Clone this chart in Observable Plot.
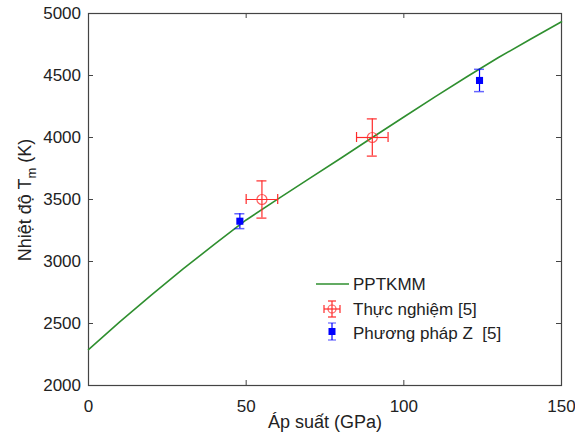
<!DOCTYPE html>
<html>
<head>
<meta charset="utf-8">
<script src="https://cdn.jsdelivr.net/npm/d3@7"></script>
<script src="https://cdn.jsdelivr.net/npm/@observablehq/plot@0.6"></script>
<style>
  html, body { margin: 0; padding: 0; background: #fff; }
  #chart { width: 575px; height: 435px; }
</style>
</head>
<body>
<div id="chart"></div>
<script>
// PPTKMM curve
const pressure = [0, 10, 20, 30, 40, 50, 60, 70, 80, 90, 100, 110, 120, 130, 140, 150];
const meltT    = [2290, 2515, 2730, 2940, 3140, 3335, 3503, 3668, 3833, 4000, 4165, 4330, 4490, 4645, 4790, 4933];
// Thực nghiệm [5]
const expP = [55, 90];
const expT = [3500, 4000];
const expPErr = [5, 5];
const expTErr = [150, 150];
// Phương pháp Z [5]
const zP = [48, 124];
const zT = [3325, 4460];
const zTErr = [60, 90];

const xTicks = [0, 50, 100, 150];
const yTicks = [2000, 2500, 3000, 3500, 4000, 4500, 5000];

const curve = pressure.map((p, i) => ({p, t: meltT[i]}));
const exp = expP.map((p, i) => ({p, t: expT[i], pe: expPErr[i], te: expTErr[i]}));
const zd = zP.map((p, i) => ({p, t: zT[i], te: zTErr[i]}));

const green = "#2f8f2f";
const red = "#ff2a2a";
const blue = "#0000ff";
const axisColor = "#444";
const fmt = d3.format("d");

const W = 575, H = 435, ML = 88, MR = 14, MT = 13, MB = 50, TL = 5;
const innerW = W - ML - MR, innerH = H - MT - MB;

const plot = Plot.plot({
  width: W,
  height: H,
  marginLeft: ML,
  marginRight: MR,
  marginTop: MT,
  marginBottom: MB,
  style: {fontFamily: "Liberation Sans, Arial, sans-serif", fontSize: "17px", color: "#222", background: "#fff"},
  x: {domain: [0, 150]},
  y: {domain: [2000, 5000]},
  marks: [
    Plot.axisX({anchor: "bottom", ticks: xTicks, tickSize: 0, tickPadding: 14, tickFormat: fmt, label: null, fill: "#222"}),
    Plot.axisY({anchor: "left", ticks: yTicks, tickSize: 0, tickPadding: 7.5, tickFormat: fmt, label: null, fill: "#222"}),
    // inward ticks on all four sides
    Plot.ruleX(xTicks, {x: d => d, insetTop: innerH - TL, stroke: axisColor}),
    Plot.ruleX(xTicks, {x: d => d, insetBottom: innerH - TL, stroke: axisColor}),
    Plot.ruleY(yTicks, {y: d => d, insetRight: innerW - TL, stroke: axisColor}),
    Plot.ruleY(yTicks, {y: d => d, insetLeft: innerW - TL, stroke: axisColor}),
    Plot.frame({stroke: axisColor, strokeWidth: 1.2}),
    Plot.line(curve, {x: "p", y: "t", stroke: green, strokeWidth: 1.6}),
    // experimental error bars
    Plot.ruleX(exp, {x: "p", y1: d => d.t - d.te, y2: d => d.t + d.te, stroke: red, strokeWidth: 1.2}),
    Plot.ruleY(exp, {y: "t", x1: d => d.p - d.pe, x2: d => d.p + d.pe, stroke: red, strokeWidth: 1.2}),
    Plot.ruleY(exp, {y: d => d.t - d.te, x1: "p", x2: "p", insetLeft: -5, insetRight: -5, stroke: red, strokeWidth: 1.2}),
    Plot.ruleY(exp, {y: d => d.t + d.te, x1: "p", x2: "p", insetLeft: -5, insetRight: -5, stroke: red, strokeWidth: 1.2}),
    Plot.ruleX(exp, {x: d => d.p - d.pe, y1: "t", y2: "t", insetTop: -5, insetBottom: -5, stroke: red, strokeWidth: 1.2}),
    Plot.ruleX(exp, {x: d => d.p + d.pe, y1: "t", y2: "t", insetTop: -5, insetBottom: -5, stroke: red, strokeWidth: 1.2}),
    Plot.dot(exp, {x: "p", y: "t", r: 5, stroke: red, strokeWidth: 1.2, fill: "none", strokeOpacity: 0.75}),
    // Z method
    Plot.ruleX(zd, {x: "p", y1: d => d.t - d.te, y2: d => d.t + d.te, stroke: blue, strokeWidth: 1.2}),
    Plot.ruleY(zd, {y: d => d.t - d.te, x1: "p", x2: "p", insetLeft: -5, insetRight: -5, stroke: blue, strokeWidth: 1.5, strokeOpacity: 0.6}),
    Plot.ruleY(zd, {y: d => d.t + d.te, x1: "p", x2: "p", insetLeft: -5, insetRight: -5, stroke: blue, strokeWidth: 1.5, strokeOpacity: 0.6}),
    Plot.dot(zd, {x: "p", y: "t", symbol: "square", r: 4, fill: blue, stroke: "none"})
  ]
});

const svg = d3.select(plot);
const font = "Liberation Sans, Arial, sans-serif";

// x axis label
svg.append("text")
  .attr("x", 325).attr("y", 428)
  .attr("text-anchor", "middle")
  .attr("font-family", font).attr("font-size", 18).attr("fill", "#222")
  .text("Áp suất (GPa)");

// y axis label with subscript
const yl = svg.append("text")
  .attr("transform", "translate(31,200) rotate(-90)")
  .attr("text-anchor", "middle")
  .attr("font-family", font).attr("font-size", 18).attr("fill", "#222");
yl.append("tspan").text("Nhiệt độ T");
yl.append("tspan").attr("font-size", 13).attr("dy", 5).text("m");
yl.append("tspan").attr("dy", -5).text(" (K)");

// legend
const lg = svg.append("g").attr("font-family", font).attr("font-size", 17).attr("fill", "#222").attr("text-anchor", "start");
lg.append("line").attr("x1", 316).attr("x2", 349).attr("y1", 284).attr("y2", 284).attr("stroke", green).attr("stroke-width", 1.6);
lg.append("text").attr("x", 353).attr("y", 290).attr("text-anchor", "start").text("PPTKMM");

const rg = lg.append("g").attr("stroke", red).attr("stroke-width", 1.2).attr("fill", "none");
rg.append("line").attr("x1", 324).attr("x2", 340).attr("y1", 309).attr("y2", 309);
rg.append("line").attr("x1", 332).attr("x2", 332).attr("y1", 301).attr("y2", 317);
rg.append("line").attr("x1", 328).attr("x2", 336).attr("y1", 301).attr("y2", 301);
rg.append("line").attr("x1", 328).attr("x2", 336).attr("y1", 317).attr("y2", 317);
rg.append("line").attr("x1", 324).attr("x2", 324).attr("y1", 305).attr("y2", 313);
rg.append("line").attr("x1", 340).attr("x2", 340).attr("y1", 305).attr("y2", 313);
rg.append("circle").attr("cx", 332).attr("cy", 309).attr("r", 4).attr("stroke-opacity", 0.75);
lg.append("text").attr("x", 353).attr("y", 315).attr("text-anchor", "start").text("Thực nghiệm [5]");

const bg = lg.append("g").attr("stroke", blue).attr("stroke-width", 1.2);
bg.append("line").attr("x1", 332).attr("x2", 332).attr("y1", 323).attr("y2", 340);
bg.append("line").attr("x1", 328).attr("x2", 336).attr("y1", 323).attr("y2", 323).attr("stroke-opacity", 0.6);
bg.append("line").attr("x1", 328).attr("x2", 336).attr("y1", 340).attr("y2", 340).attr("stroke-opacity", 0.6);
bg.append("rect").attr("x", 328.5).attr("y", 328).attr("width", 7).attr("height", 7).attr("fill", blue).attr("stroke", "none");
lg.append("text").attr("x", 353).attr("y", 339).attr("text-anchor", "start").style("white-space", "pre").text("Phương pháp Z  [5]");

document.getElementById("chart").appendChild(plot);
</script>
</body>
</html>
